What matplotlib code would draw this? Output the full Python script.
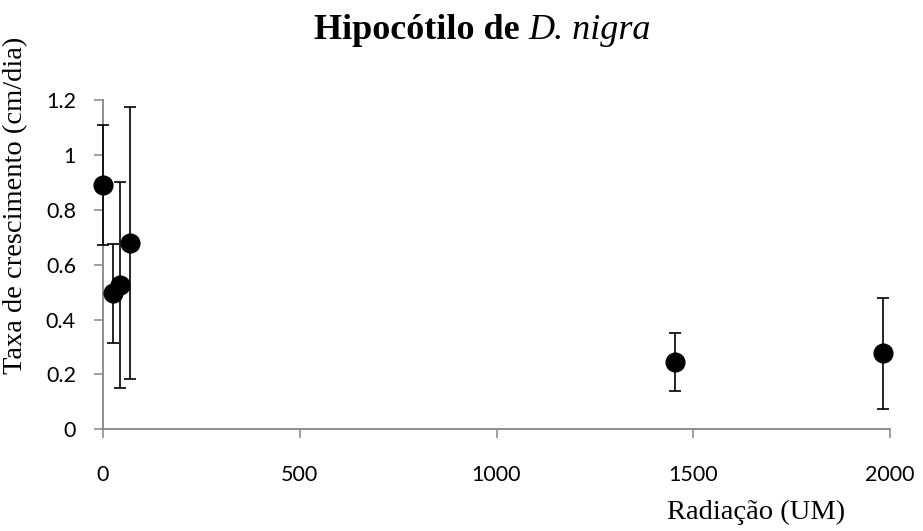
import matplotlib
matplotlib.use("Agg")
import matplotlib.pyplot as plt
import numpy as np

# dose de radiação (UM) e taxa de crescimento do hipocótilo
radiacao = [0, 26, 43, 69, 1454, 1983]
taxa = [0.89, 0.496, 0.526, 0.68, 0.245, 0.277]
erro = [0.22, 0.18, 0.377, 0.496, 0.107, 0.203]

xticks = [0, 500, 1000, 1500, 2000]
yticks = [0, 0.2, 0.4, 0.6, 0.8, 1.0, 1.2]
ytick_labels = ["0", "0.2", "0.4", "0.6", "0.8", "1", "1.2"]

cinza = "#868686"
serif = "Liberation Serif"

fig = plt.figure(figsize=(9.23, 5.31), dpi=100)
ax = fig.add_axes([103 / 923, 1 - 429.3 / 531, 787 / 923, 329.3 / 531])

pontos = ax.errorbar(radiacao, taxa, yerr=erro, fmt="o", color="black",
                     markersize=13.5, elinewidth=1.2, capsize=4.5,
                     capthick=1.2, zorder=3)
for art in pontos.lines[0:1] + tuple(pontos.lines[1]) + tuple(pontos.lines[2]):
    art.set_clip_on(False)

ax.set_xlim(0, 2000)
ax.set_ylim(0, 1.2)
ax.set_xticks(xticks)
ax.set_xticklabels([str(v) for v in xticks])
ax.set_yticks(yticks)
ax.set_yticklabels(ytick_labels)

for lado in ["top", "right"]:
    ax.spines[lado].set_visible(False)
for lado in ["left", "bottom"]:
    ax.spines[lado].set_color(cinza)
    ax.spines[lado].set_linewidth(1.3)

ax.tick_params(axis="both", direction="out", length=6.5, width=1.1,
               color=cinza, labelsize=15.5, labelcolor="black")
ax.tick_params(axis="y", pad=13)
ax.tick_params(axis="x", pad=19)
for lbl in ax.get_xticklabels() + ax.get_yticklabels():
    lbl.set_family("Lato")

ax.set_xlabel("Radiação (UM)", family=serif, fontsize=20.5)
ax.xaxis.set_label_coords(0.830, -0.215)
ax.set_ylabel("Taxa de crescimento (cm/dia)", family=serif, fontsize=20.5)
ax.yaxis.set_label_coords(-0.095, 0.68)

# título com o nome da espécie em itálico
fig.text(520 / 923, 1 - 39 / 531, "Hipocótilo de", family=serif,
         fontsize=26, fontweight="bold", ha="right", va="baseline")
fig.text(528 / 923, 1 - 39 / 531, "D. nigra", family=serif,
         fontsize=26, style="italic", ha="left", va="baseline")

fig.savefig("out.png", dpi=100)
